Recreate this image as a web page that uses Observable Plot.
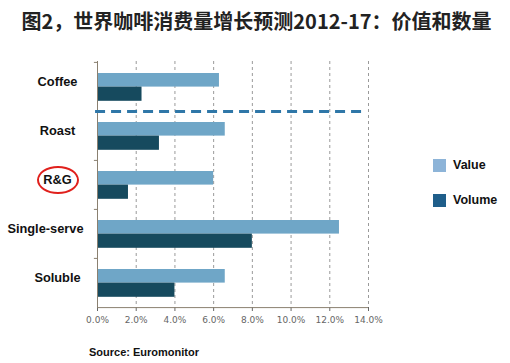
<!DOCTYPE html>
<html>
<head>
<meta charset="utf-8">
<script src="https://cdn.jsdelivr.net/npm/d3@7"></script>
<script src="https://cdn.jsdelivr.net/npm/@observablehq/plot@0.6"></script>
<style>
  body { margin: 0; background: #fff; }
  #wrap { position: relative; width: 510px; height: 363px; overflow: hidden; background: #fff; }
  #wrap svg { position: absolute; left: 0; top: 0; }
  .title { position: absolute; left: 0; width: 513px; top: 8px; text-align: center;
           font-family: "Noto Sans CJK SC", sans-serif; font-weight: bold; font-size: 20px; line-height: 26px; color: #222; white-space: nowrap; }
  .source { position: absolute; left: 89px; top: 345px; font-family: "Liberation Sans", Arial, sans-serif;
            font-weight: bold; font-size: 11px; line-height: 14px; color: #111; white-space: nowrap; }
  .leg { position: absolute; left: 433px; width: 13px; height: 13px; }
  .legtxt { position: absolute; left: 453px; font-family: "Liberation Sans", Arial, sans-serif; font-weight: bold;
            font-size: 12.5px; line-height: 14px; color: #111; white-space: nowrap; }
  .ring { position: absolute; left: 37px; top: 166px; width: 38px; height: 24px; border: 2px solid #e0201c; border-radius: 50%; }
</style>
</head>
<body>
<div id="wrap"></div>
<script>
const titleText = "图2，世界咖啡消费量增长预测2012-17：价值和数量";
const sourceText = "Source: Euromonitor";
const categories = ["Coffee", "Roast", "R&G", "Single-serve", "Soluble"];
const valueGrowth = [6.3, 6.6, 6.0, 12.5, 6.6];
const volumeGrowth = [2.3, 3.2, 1.6, 8.0, 4.0];
const xTicks = [0, 2, 4, 6, 8, 10, 12, 14];
const seriesNames = ["Value", "Volume"];
const barColors = ["#6fa6c7", "#164a5e"];
const legendColors = ["#8db4d8", "#1f5e8a"];

const rows = categories.map((c, i) => ({category: c, value: valueGrowth[i], volume: volumeGrowth[i]}));
const half = 24.6;
const labelFont = {fill: "#111", fontWeight: "bold", fontSize: 12.8, fontFamily: "Liberation Sans, Arial, sans-serif"};

const chart = Plot.plot({
  width: 510,
  height: 363,
  marginLeft: 97,
  marginRight: 142,
  marginTop: 61,
  marginBottom: 56,
  style: {fontFamily: "DejaVu Sans, Verdana, sans-serif", fontSize: "9px", color: "#666", background: "transparent"},
  x: {domain: [0, 14], ticks: xTicks, tickFormat: d => d.toFixed(1) + "%", tickSize: 4, tickPadding: 5, label: null},
  y: {domain: categories, padding: 0, axis: null},
  marks: [
    Plot.ruleX(xTicks.slice(1), {stroke: "#9a9a9a", strokeDasharray: "3,3"}),
    Plot.barX(rows, {y: "category", x: "value", fill: barColors[0], insetTop: 11, insetBottom: 24.4}),
    Plot.barX(rows, {y: "category", x: "volume", fill: barColors[1], insetTop: 24.6, insetBottom: 10.2}),
    Plot.ruleX([0], {stroke: "#8a8070"}),
    Plot.ruleY(categories.filter(c => c !== "Roast"), {y: d => d, dy: -half, x1: -0.16, x2: 0, stroke: "#8a8070"}),
    Plot.ruleY([categories[categories.length - 1]], {y: d => d, dy: half, x1: 0, x2: 14, stroke: "#8a8070"}),
    Plot.ruleY([categories[1]], {y: d => d, dy: -half, x1: -0.1, x2: 13.9, stroke: "#2f77a8", strokeWidth: 3, strokeDasharray: "10,6"}),
    Plot.text(categories.filter(c => c.length < 10), {y: d => d, x: 0, dx: -40, dy: -5, text: d => d, textAnchor: "middle", ...labelFont}),
    Plot.text(categories.filter(c => c.length >= 10), {y: d => d, x: 0, dx: -14, dy: -5, text: d => d, textAnchor: "end", ...labelFont})
  ]
});

const wrap = document.getElementById("wrap");
wrap.appendChild(chart);

const t = document.createElement("div");
t.className = "title"; t.textContent = titleText; wrap.appendChild(t);

const s = document.createElement("div");
s.className = "source"; s.textContent = sourceText; wrap.appendChild(s);

const ring = document.createElement("div");
ring.className = "ring"; wrap.appendChild(ring);

const legTops = [159, 194];
seriesNames.forEach((name, i) => {
  const sq = document.createElement("div");
  sq.className = "leg"; sq.style.top = legTops[i] + "px"; sq.style.background = legendColors[i];
  wrap.appendChild(sq);
  const lt = document.createElement("div");
  lt.className = "legtxt"; lt.style.top = (legTops[i] - 1) + "px"; lt.textContent = name;
  wrap.appendChild(lt);
});
</script>
</body>
</html>
